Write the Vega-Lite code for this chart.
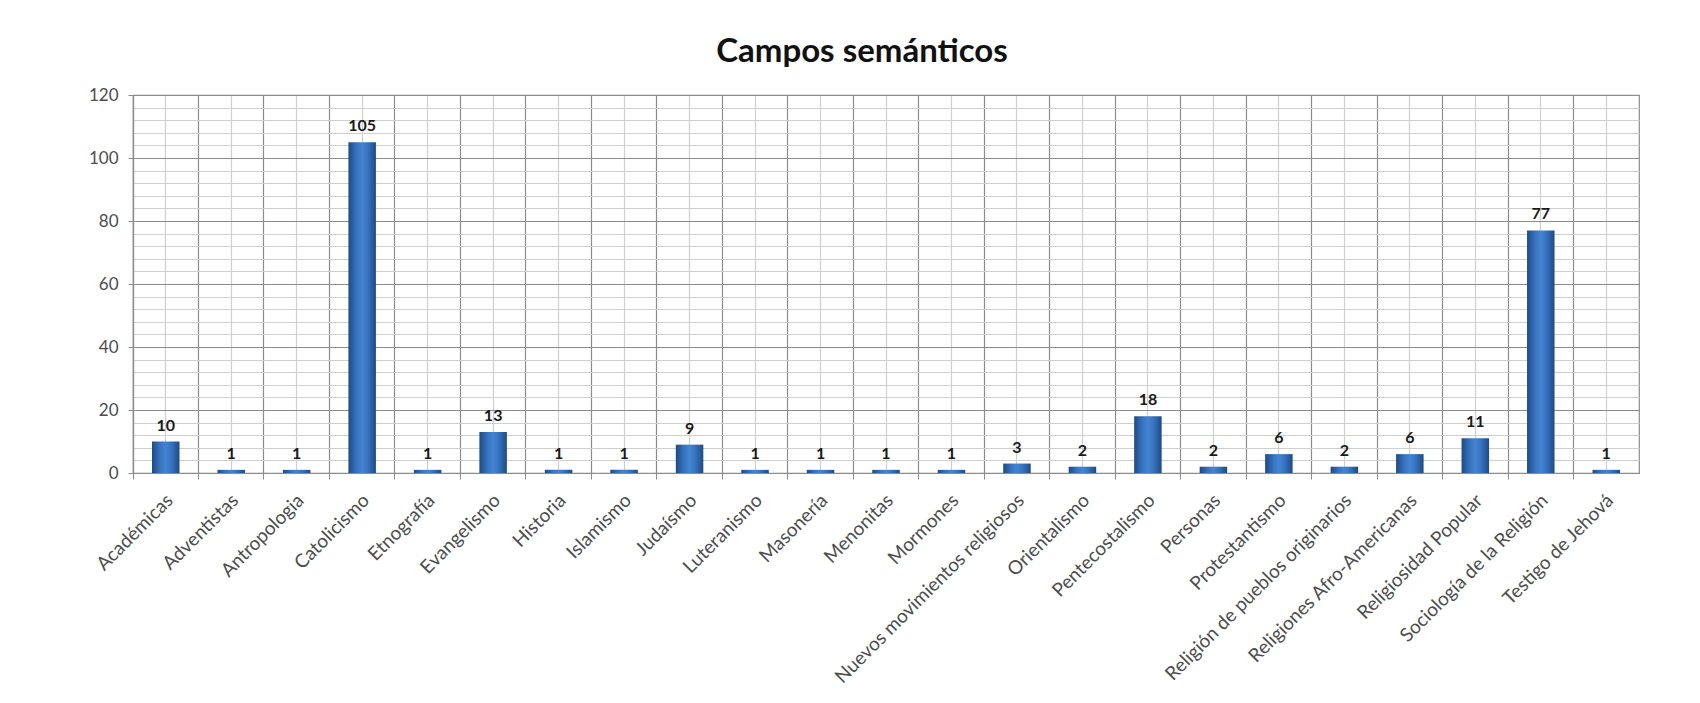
{
  "$schema": "https://vega.github.io/schema/vega-lite/v6.json",
  "width": 1506,
  "height": 378,
  "autosize": "none",
  "padding": {"left": 133, "top": 95, "right": 61, "bottom": 230},
  "background": "white",
  "title": {
    "text": "Campos semánticos",
    "font": "Lato",
    "fontSize": 33,
    "fontWeight": "bold",
    "color": "#111111",
    "anchor": "middle",
    "dx": -24,
    "offset": 17
  },
  "config": {
    "view": {"stroke": "#8c8c8c", "strokeWidth": 1.2},
    "axis": {"labelFont": "Lato", "labelColor": "#4d4d4d", "titleFont": "Lato"}
  },
  "data": {
    "values": [
      {"campo": "Académicas", "n": 10},
      {"campo": "Adventistas", "n": 1},
      {"campo": "Antropologia", "n": 1},
      {"campo": "Catolicismo", "n": 105},
      {"campo": "Etnografía", "n": 1},
      {"campo": "Evangelismo", "n": 13},
      {"campo": "Historia", "n": 1},
      {"campo": "Islamismo", "n": 1},
      {"campo": "Judaísmo", "n": 9},
      {"campo": "Luteranismo", "n": 1},
      {"campo": "Masonería", "n": 1},
      {"campo": "Menonitas", "n": 1},
      {"campo": "Mormones", "n": 1},
      {"campo": "Nuevos movimientos religiosos", "n": 3},
      {"campo": "Orientalismo", "n": 2},
      {"campo": "Pentecostalismo", "n": 18},
      {"campo": "Personas", "n": 2},
      {"campo": "Protestantismo", "n": 6},
      {"campo": "Religión de pueblos originarios", "n": 2},
      {"campo": "Religiones Afro-Americanas", "n": 6},
      {"campo": "Religiosidad Popular", "n": 11},
      {"campo": "Sociología de la Religión", "n": 77},
      {"campo": "Testigo de Jehová", "n": 1}
    ]
  },
  "layer": [
    {
      "mark": {
        "type": "bar",
        "width": {"band": 0.42},
        "color": {
          "gradient": "linear",
          "x1": 0, "y1": 0, "x2": 1, "y2": 0,
          "stops": [
            {"offset": 0, "color": "#1d4a86"},
            {"offset": 0.3, "color": "#3774c0"},
            {"offset": 0.5, "color": "#4384d2"},
            {"offset": 0.7, "color": "#3774c0"},
            {"offset": 1, "color": "#1d4a86"}
          ]
        }
      },
      "encoding": {
        "x": {
          "field": "campo",
          "type": "nominal",
          "sort": null,
          "scale": {"paddingInner": 0, "paddingOuter": 0},
          "axis": {
            "orient": "bottom",
            "title": null,
            "bandPosition": 0,
            "grid": true,
            "gridColor": "#8c8c8c",
            "gridWidth": 1.2,
            "domainColor": "#8c8c8c",
            "domainWidth": 1.2,
            "tickColor": "#8c8c8c",
            "tickSize": 6,
            "labelAngle": -45,
            "labelAlign": "right",
            "labelBaseline": "middle",
            "labelOffset": 4,
            "labelPadding": 18,
            "labelFontSize": 19,
            "labelLimit": 500,
            "labelOverlap": false
          }
        },
        "y": {
          "field": "n",
          "type": "quantitative",
          "scale": {"domain": [0, 120], "nice": false},
          "axis": {
            "orient": "left",
            "title": null,
            "values": [0, 20, 40, 60, 80, 100, 120],
            "grid": true,
            "gridColor": "#8c8c8c",
            "gridWidth": 1.2,
            "domainColor": "#8c8c8c",
            "domainWidth": 1.2,
            "tickColor": "#8c8c8c",
            "tickSize": 5,
            "labelFontSize": 17,
            "labelPadding": 10
          }
        }
      }
    },
    {
      "mark": {
        "type": "text",
        "font": "Lato",
        "fontSize": 16,
        "fontWeight": "bold",
        "color": "#1a1a1a",
        "baseline": "alphabetic",
        "dy": -11
      },
      "encoding": {
        "x": {
          "field": "campo",
          "type": "nominal",
          "sort": null,
          "axis": {
            "orient": "top",
            "title": null,
            "bandPosition": 0.5,
            "grid": true,
            "gridColor": "#cfcfcf",
            "gridWidth": 1.2,
            "labels": false,
            "ticks": false,
            "domain": false
          }
        },
        "y": {
          "field": "n",
          "type": "quantitative",
          "axis": {
            "orient": "right",
            "title": null,
            "values": [4, 8, 12, 16, 24, 28, 32, 36, 44, 48, 52, 56, 64, 68, 72, 76, 84, 88, 92, 96, 104, 108, 112, 116],
            "grid": true,
            "gridColor": "#cfcfcf",
            "gridWidth": 1.2,
            "labels": false,
            "ticks": false,
            "domain": false
          }
        },
        "text": {"field": "n", "type": "quantitative"}
      }
    }
  ],
  "resolve": {"axis": {"x": "independent", "y": "independent"}}
}
